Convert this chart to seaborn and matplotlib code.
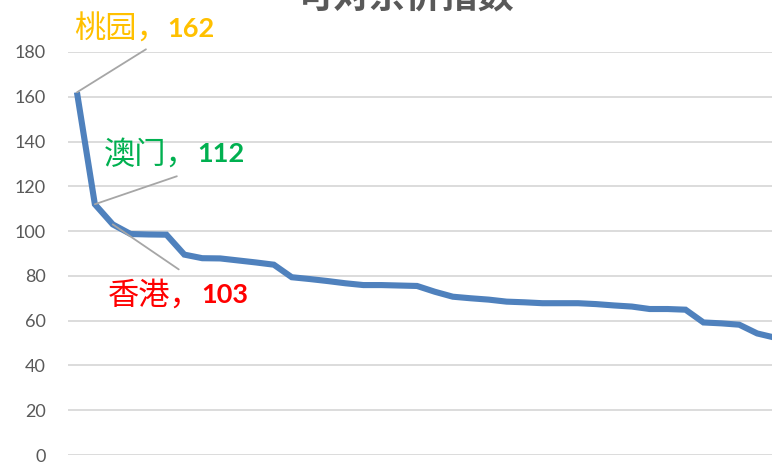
import matplotlib
matplotlib.use("Agg")
import matplotlib.pyplot as plt
import seaborn as sns
import pandas as pd
import numpy as np

# ---- data ----
values = [162, 112, 103, 98.7, 98.5, 98.4, 89.5, 87.9, 87.8, 86.9,
          86.0, 85.0, 79.4, 78.6, 77.7, 76.7, 75.9, 75.9, 75.7, 75.5,
          72.9, 70.7, 70.0, 69.4, 68.5, 68.2, 67.8, 67.8, 67.8, 67.4,
          66.8, 66.3, 65.2, 65.2, 64.9, 59.2, 58.8, 58.2, 54.3, 52.4]
yticks = [0, 20, 40, 60, 80, 100, 120, 140, 160, 180]
title_text = "可对京价指数"
callouts = [  # (index, name, value, colour)
    (0, "桃园，", "162", "#FFC000"),
    (1, "澳门，", "112", "#00B050"),
    (2, "香港，", "103", "#FF0000"),
]
# layout offsets in pixels: (text dx, text dy, leader dx, leader dy)
callout_offsets = [(-3, 63, 69, 43), (9, 50, 82, 28), (-5, -71, 66, -45)]

df = pd.DataFrame({"idx": np.arange(len(values)), "value": values})

sns.set_theme(style="white")
plt.rcParams['font.family'] = ['Lato', 'Noto Sans CJK SC', 'DejaVu Sans']

W, H = 772, 463
fig = plt.figure(figsize=(W / 100, H / 100), dpi=100)
left, right, top, bottom = 68, 772, 52, 455
ax = fig.add_axes([left / W, (H - bottom) / H, (right - left) / W, (bottom - top) / H])

sns.lineplot(data=df, x="idx", y="value", ax=ax, color="#4F81BD", linewidth=4.4,
             solid_joinstyle="miter", solid_capstyle="butt", clip_on=True)

spacing = 17.9
ax.set_xlim(-0.5, -0.5 + (right - left) / spacing)
ax.set_ylim(0, 180)
ax.set_yticks(yticks)
ax.set_yticklabels([str(t) for t in yticks], fontsize=13, color="#595959")
ax.set_xticks([])
ax.set_xlabel("")
ax.set_ylabel("")
ax.yaxis.grid(True, color="#D9D9D9", linewidth=1.3)
ax.set_axisbelow(True)
ax.tick_params(axis="y", length=0, pad=16)
for s in ax.spines.values():
    s.set_visible(False)

for (i, name, num, col), (tdx, tdy, ldx, ldy) in zip(callouts, callout_offsets):
    ax.annotate("", xy=(i, values[i]), xytext=(ldx, ldy), textcoords="offset pixels",
                arrowprops=dict(arrowstyle="-", color="#A6A6A6", lw=1.3,
                                shrinkA=0, shrinkB=0))
    t = ax.annotate(name, xy=(i, values[i]), xytext=(tdx, tdy), textcoords="offset pixels",
                    ha="left", va="center", fontsize=22.5, color=col,
                    family=["Noto Sans CJK SC", "DejaVu Sans"])
    ax.annotate(num, xy=(1, 0.5), xycoords=t, ha="left", va="center",
                fontsize=19.5, fontweight="bold", color=col, family=["Lato", "DejaVu Sans"])

fig.text(406 / W, 1 - 16 / H, title_text, ha="center", va="bottom", fontsize=26,
         fontweight="bold", color="#595959", family=["Noto Sans CJK SC", "DejaVu Sans"])

fig.savefig("out.png", dpi=100)
